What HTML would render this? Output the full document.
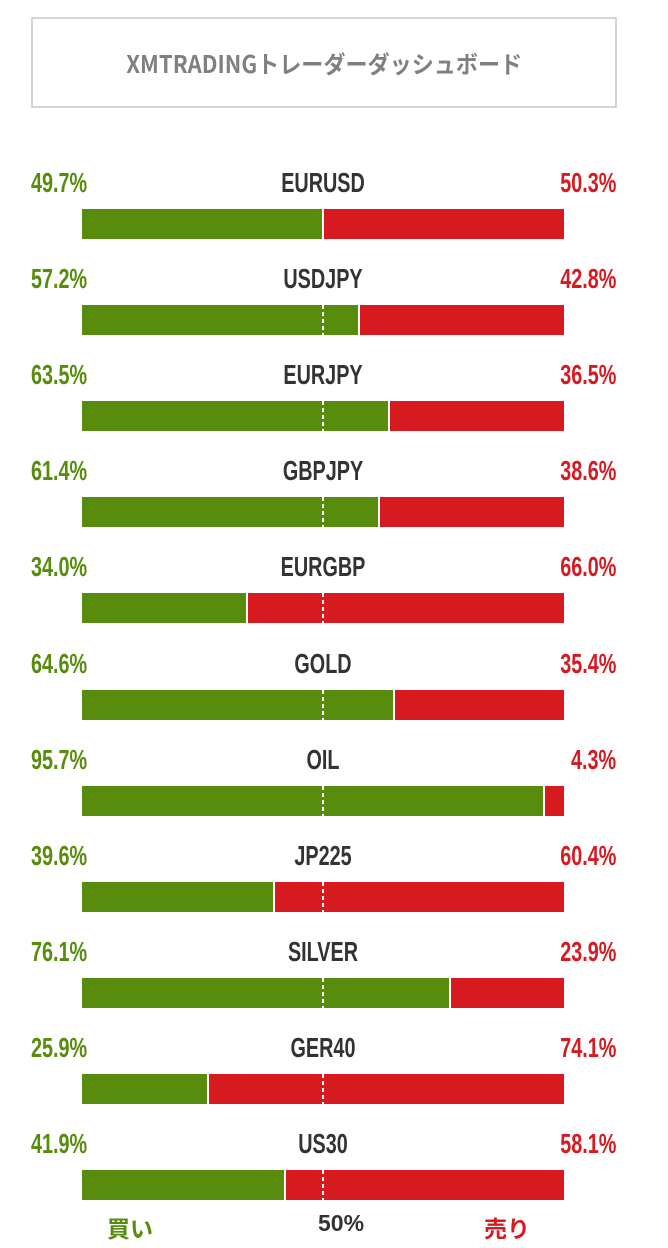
<!DOCTYPE html>
<html><head><meta charset="utf-8"><style>
body{margin:0;width:668px;height:1248px;background:#fff;position:relative;overflow:hidden;font-family:"Liberation Sans Narrow","Liberation Sans",sans-serif}
.title{position:absolute;left:31px;top:17px;width:582px;height:87px;border:2px solid #d4d4d4;display:flex;align-items:center;justify-content:center;color:#808080;font-size:24px;font-weight:bold;font-family:"Liberation Sans Narrow","Noto Sans CJK JP",sans-serif}
.title span{display:inline-block;transform:scaleX(0.92)}
.t{position:absolute;font-weight:bold;font-size:22px;line-height:22px;white-space:nowrap}
.g{color:#578c0d}.r{color:#d71920}.k{color:#333}
.bar{position:absolute;left:82px;width:482px;height:30px;background:#d71920}
.bar .gr{position:absolute;left:0;top:0;height:30px;background:#578c0d;border-right:2px solid #fff}
.bar .d{position:absolute;left:240px;top:0;width:2px;height:30px;background:repeating-linear-gradient(#fff 0 4px,transparent 4px 7px)}
.f{position:absolute;top:1210px;font-size:23px;font-weight:bold;font-family:"Liberation Sans","Noto Sans CJK JP",sans-serif}
</style></head><body>
<div class="title"><span>XMTRADINGトレーダーダッシュボード</span></div>
<div id="rows"></div>
<div class="f g" style="left:107px">買い</div>
<div class="f k" style="left:318px">50%</div>
<div class="f r" style="left:484px">売り</div>
<script>
var d=[["EURUSD",49.7],["USDJPY",57.2],["EURJPY",63.5],["GBPJPY",61.4],["EURGBP",34.0],["GOLD",64.6],["OIL",95.7],["JP225",39.6],["SILVER",76.1],["GER40",25.9],["US30",41.9]];
var h="";
d.forEach(function(r,i){
 var y=172+i*96.1, b=209+i*96.1, p=r[1], q=(100-p).toFixed(1);
 h+='<div class="t g" style="left:31px;top:'+y+'px;transform-origin:left center;transform:scale(0.9,1.25)">'+p.toFixed(1)+'%</div>';
 h+='<div class="t k" style="left:0;width:646px;text-align:center;top:'+y+'px;transform:scale(0.9,1.25)">'+r[0]+'</div>';
 h+='<div class="t r" style="right:52px;top:'+y+'px;transform-origin:right center;transform:scale(0.9,1.25)">'+q+'%</div>';
 h+='<div class="bar" style="top:'+b+'px"><div class="gr" style="width:'+(482*p/100)+'px"></div><div class="d"></div></div>';
});
document.getElementById("rows").innerHTML=h;
</script>
</body></html>
